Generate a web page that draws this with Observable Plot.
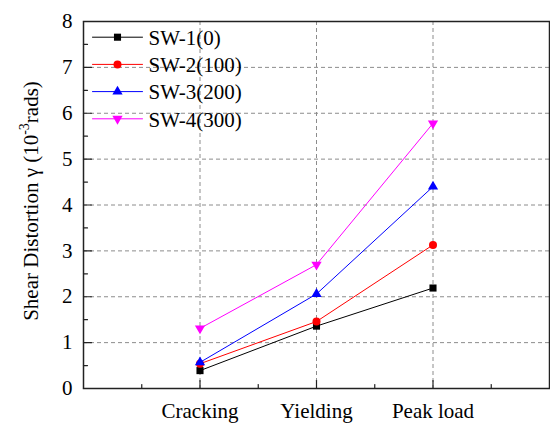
<!DOCTYPE html>
<html>
<head>
<meta charset="utf-8">
<script src="https://cdn.jsdelivr.net/npm/d3@7"></script>
<script src="https://cdn.jsdelivr.net/npm/@observablehq/plot@0.6"></script>
<style>
  html, body { margin: 0; padding: 0; background: white; }
  #chart svg { display: block; }
</style>
</head>
<body>
<div id="chart"></div>
<script>
const stages = ["Cracking", "Yielding", "Peak load"];
const seriesNames = ["SW-1(0)", "SW-2(100)", "SW-3(200)", "SW-4(300)"];
const sw1 = [0.39, 1.36, 2.19];
const sw2 = [0.54, 1.46, 3.13];
const sw3 = [0.57, 2.06, 4.40];
const sw4 = [1.31, 2.70, 5.78];
const seriesValues = [sw1, sw2, sw3, sw4];
const colors = ["#000000", "#ff0000", "#0000ff", "#ff00ff"];
const symbols = ["square", "circle", "triangle", "triangle"];
const rotations = [0, 0, 0, 180];
const radii = [4.0, 4.0, 3.8, 3.8];
const yTicks = [0, 1, 2, 3, 4, 5, 6, 7, 8];
const yMinor = [0.5, 1.5, 2.5, 3.5, 4.5, 5.5, 6.5, 7.5];
const xTicks = [1, 2, 3];
const xMinor = [0.5, 1.5, 2.5, 3.5];

const data = [];
seriesNames.forEach((s, si) => {
  seriesValues[si].forEach((v, i) => data.push({series: s, x: i + 1, value: v}));
});

const font = "Liberation Serif";
const lineShape = {draw(context, l) { context.moveTo(0, 0); context.lineTo(0, -l); }};

const marks = [
  Plot.gridY([1, 2, 3, 4, 5, 6, 7], {stroke: "#8c8c8c", strokeOpacity: 1, strokeDasharray: "4,3", strokeWidth: 1}),
  Plot.gridX(xTicks, {stroke: "#8c8c8c", strokeOpacity: 1, strokeDasharray: "4,3", strokeWidth: 1}),
  Plot.vector(yTicks, {x: 0, y: d => d, length: 8, rotate: 90, anchor: "start", shape: lineShape, stroke: "#222", strokeWidth: 1.2}),
  Plot.vector(yMinor, {x: 0, y: d => d, length: 4, rotate: 90, anchor: "start", shape: lineShape, stroke: "#222", strokeWidth: 1.2}),
  Plot.vector(xTicks, {x: d => d, y: 0, length: 8, rotate: 0, anchor: "start", shape: lineShape, stroke: "#222", strokeWidth: 1.2}),
  Plot.vector(xMinor, {x: d => d, y: 0, length: 4, rotate: 0, anchor: "start", shape: lineShape, stroke: "#222", strokeWidth: 1.2}),
  Plot.axisY(yTicks, {tickSize: 0, tickPadding: 11, label: null, fontSize: 21, fontFamily: font, fontVariant: "normal", fill: "#000"}),
  Plot.axisX(xTicks, {tickSize: 0, tickPadding: 15, label: null, fontSize: 21, fontFamily: font, fontVariant: "normal", fill: "#000", tickFormat: d => stages[d - 1]}),
];

seriesNames.forEach((s, si) => {
  const d = data.filter(r => r.series === s);
  marks.push(Plot.line(d, {x: "x", y: "value", stroke: colors[si], strokeWidth: 1}));
  marks.push(Plot.dot(d, {x: "x", y: "value", symbol: symbols[si], fill: colors[si], r: radii[si], rotate: rotations[si]}));
  const dy = 15.7 + si * 27.2;
  marks.push(Plot.vector([0], {frameAnchor: "top-left", dx: 9, dy, length: 50, rotate: 90, anchor: "start", shape: lineShape, stroke: colors[si], strokeWidth: 1}));
  marks.push(Plot.dot([0], {frameAnchor: "top-left", dx: 34, dy, symbol: symbols[si], fill: colors[si], r: radii[si], rotate: rotations[si]}));
  marks.push(Plot.text([s], {frameAnchor: "top-left", dx: 65, dy: dy + 1, text: d => d, textAnchor: "start", lineAnchor: "middle", fontSize: 21, fontFamily: font, fill: "#000"}));
});

marks.push(Plot.frame({stroke: "#222", strokeWidth: 1.5}));

const chart = Plot.plot({
  width: 550,
  height: 427,
  marginLeft: 83,
  marginRight: 1,
  marginTop: 21,
  marginBottom: 39,
  x: {domain: [0, 4], axis: null},
  y: {domain: [0, 8], axis: null},
  marks
});

const svg = d3.select(chart);
const label = svg.append("text")
  .attr("transform", "translate(38,201) rotate(-90)")
  .attr("text-anchor", "middle")
  .attr("font-family", font)
  .attr("font-size", 21)
  .attr("fill", "#000");
label.append("tspan").text("Shear Distortion γ (10");
label.append("tspan").attr("font-size", 14).attr("dy", "-9").text("-3");
label.append("tspan").attr("dy", "9").text("rads)");

document.getElementById("chart").appendChild(chart);
</script>
</body>
</html>
